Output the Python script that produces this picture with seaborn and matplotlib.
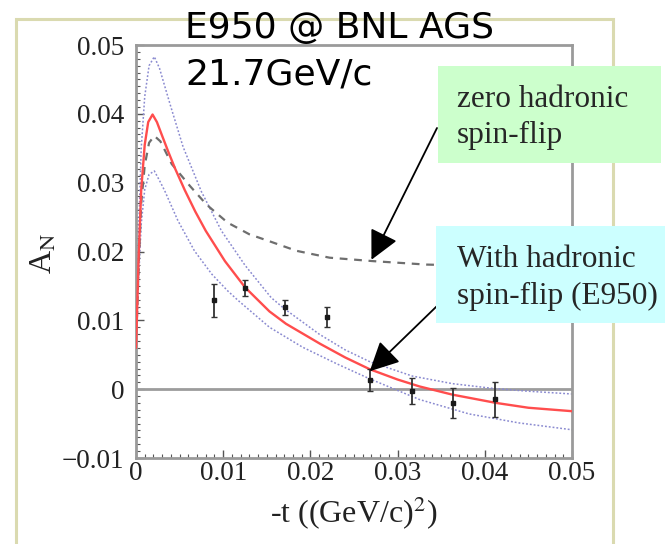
import matplotlib
matplotlib.use("Agg")
import matplotlib.pyplot as plt
from matplotlib.patches import Rectangle
from matplotlib.ticker import MultipleLocator
import numpy as np
import pandas as pd
import seaborn as sns

# ---- E950 measured analyzing power ----
t_data = [0.0089, 0.0125, 0.0171, 0.0219, 0.0268, 0.0316, 0.0363, 0.0412]
an_data = [0.0129, 0.0147, 0.0119, 0.0105, 0.0013, -0.0003, -0.0020, -0.0015]
an_err = [0.0024, 0.0012, 0.0011, 0.0014, 0.0016, 0.0019, 0.0022, 0.0025]

# ---- fit with hadronic spin-flip (central curve) ----
t_fit = [0.0, 0.0003, 0.0006, 0.0010, 0.0014, 0.0019, 0.0024, 0.0030, 0.0037,
         0.0045, 0.0056, 0.0068, 0.0080, 0.0102, 0.0125, 0.0153, 0.0172, 0.0211,
         0.0240, 0.0268, 0.0300, 0.0325, 0.0363, 0.0413, 0.0450, 0.0500]
an_fit = [0.0060, 0.0190, 0.0290, 0.0355, 0.0388, 0.0399, 0.0388, 0.0368, 0.0345,
          0.0320, 0.0289, 0.0258, 0.0230, 0.0186, 0.0148, 0.0113, 0.0095, 0.0066,
          0.0046, 0.0029, 0.0014, 0.0004, -0.0008, -0.0020, -0.0027, -0.0032]

# ---- upper error band ----
t_up = [0.0, 0.0003, 0.0006, 0.0010, 0.0015, 0.0021, 0.0027, 0.0033, 0.0040,
        0.0054, 0.0075, 0.0098, 0.0125, 0.0155, 0.0170, 0.0210, 0.0240, 0.0268,
        0.0317, 0.0363, 0.0410, 0.0450, 0.0500]
an_up = [0.0060, 0.0230, 0.0350, 0.0425, 0.0470, 0.0483, 0.0466, 0.0440, 0.0410,
         0.0352, 0.0287, 0.0230, 0.0180, 0.0133, 0.0117, 0.0080, 0.0057, 0.0040,
         0.0019, 0.0008, 0.0001, -0.0003, -0.0007]

# ---- lower error band ----
t_lo = [0.0, 0.0003, 0.0006, 0.0010, 0.0015, 0.0021, 0.0027, 0.0033, 0.0048,
        0.0067, 0.0087, 0.0105, 0.0117, 0.0153, 0.0191, 0.0230, 0.0268, 0.0325,
        0.0382, 0.0439, 0.0500]
an_lo = [0.0050, 0.0160, 0.0240, 0.0290, 0.0312, 0.0317, 0.0303, 0.0288, 0.0245,
         0.0201, 0.0167, 0.0143, 0.0129, 0.0090, 0.0061, 0.0037, 0.0015, -0.0015,
         -0.0036, -0.0049, -0.0059]

# ---- zero hadronic spin-flip prediction ----
t_cni = [0.0, 0.0003, 0.0006, 0.0010, 0.0015, 0.0021, 0.0028, 0.0041, 0.0062,
         0.0081, 0.0105, 0.0130, 0.0155, 0.0184, 0.0222, 0.0272, 0.0333, 0.0400,
         0.0500]
an_cni = [0.0060, 0.0180, 0.0270, 0.0325, 0.0358, 0.0368, 0.0360, 0.0327, 0.0295,
          0.0268, 0.0242, 0.0225, 0.0214, 0.0201, 0.0191, 0.0186, 0.0181, 0.0179,
          0.0177]

x_ticks = [0.0, 0.01, 0.02, 0.03, 0.04, 0.05]
x_ticklabels = ["0", "0.01", "0.02", "0.03", "0.04", "0.05"]
y_ticks = [-0.01, 0.0, 0.01, 0.02, 0.03, 0.04, 0.05]
y_ticklabels = ["\u22120.01", "0", "0.01", "0.02", "0.03", "0.04", "0.05"]

sns.set_theme(style="white")
plt.rcParams["font.family"] = ["Liberation Serif", "DejaVu Serif"]
plt.rcParams["mathtext.fontset"] = "stix"

W, H = 665, 544
fig = plt.figure(figsize=(W / 100, H / 100), dpi=100)
ax = fig.add_axes([136 / W, 1 - 458 / H, 436 / W, 413 / H])

# outer slide frame
fig.patches.append(Rectangle((15.5 / W, -0.1), (613 - 15.5) / W, (1 - 19 / H) + 0.1,
                             transform=fig.transFigure, fill=False,
                             ec="#dadab0", lw=2.2, zorder=0.5))

ax.axhline(0, color="#9c9c9c", lw=2, zorder=1)

sns.lineplot(x=t_up, y=an_up, ax=ax, sort=False, estimator=None,
             color="#8a8ad0", lw=1.1, linestyle=(0, (1.2, 1.3)), zorder=2)
sns.lineplot(x=t_lo, y=an_lo, ax=ax, sort=False, estimator=None,
             color="#8a8ad0", lw=1.1, linestyle=(0, (1.2, 1.3)), zorder=2)
sns.lineplot(x=t_cni, y=an_cni, ax=ax, sort=False, estimator=None,
             color="#6e6e6e", lw=1.6, linestyle=(0, (3.5, 3)), zorder=2)
sns.lineplot(x=t_fit, y=an_fit, ax=ax, sort=False, estimator=None,
             color="#ff4d4d", lw=1.7, zorder=3)

ax.errorbar(t_data, an_data, yerr=an_err, fmt="s", ms=3.2, color="#1a1a1a",
            ecolor="#333333", elinewidth=1.3, capsize=2.5, capthick=1, zorder=4)

ax.set_xlim(0, 0.05)
ax.set_ylim(-0.01, 0.05)
ax.set_xticks(x_ticks)
ax.set_xticklabels(x_ticklabels)
ax.set_yticks(y_ticks)
ax.set_yticklabels(y_ticklabels)
ax.xaxis.set_minor_locator(MultipleLocator(0.001))
ax.yaxis.set_minor_locator(MultipleLocator(0.001))
ax.tick_params(which="both", direction="in", left=True, bottom=True,
               top=False, right=False, color="#555555", labelcolor="#222222")
ax.tick_params(which="major", length=6, width=1, labelsize=19.5)
ax.tick_params(which="minor", length=3, width=0.8)
ax.tick_params(axis="y", pad=8.5)
ax.tick_params(axis="x", pad=2.5)
ax.set_xlabel("")
ax.set_ylabel("")
for s in ax.spines.values():
    s.set_color("#9a9a9a")
    s.set_linewidth(2)

fig.text(354 / W, 1 - 513 / H, "-t ((GeV/c)$^{2}$)", ha="center", va="center",
         fontsize=23, color="#222222")
fig.text(44 / W, 1 - 253 / H, "A$_{\\mathrm{N}}$", ha="center", va="center",
         rotation=90, fontsize=23, color="#222222")

# experiment title
fig.text(185 / W, 1 - 38 / H, "E950 @ BNL AGS", family="DejaVu Sans",
         fontsize=26, va="baseline", color="black", zorder=5)
fig.text(185 / W, 1 - 85 / H, "21.7GeV/c", family="DejaVu Sans",
         fontsize=26, va="baseline", color="black", zorder=5)

# callout boxes
fig.patches.append(Rectangle((438 / W, 1 - 163 / H), (661 - 438) / W, (163 - 66) / H,
                             transform=fig.transFigure, fc="#ccffcc", ec="none", zorder=2))
fig.patches.append(Rectangle((436 / W, 1 - 323 / H), (665 - 436) / W, (323 - 226) / H,
                             transform=fig.transFigure, fc="#ccffff", ec="none", zorder=2))
fig.text(457 / W, 1 - 106.7 / H, "zero hadronic", fontsize=22.5, va="baseline", zorder=5)
fig.text(457 / W, 1 - 143 / H, "spin-flip", fontsize=22.5, va="baseline", zorder=5)
fig.text(457 / W, 1 - 266.7 / H, "With hadronic", fontsize=22.5, va="baseline", zorder=5)
fig.text(457 / W, 1 - 304 / H, "spin-flip (E950)", fontsize=22.5, va="baseline", zorder=5)

arrow = dict(arrowstyle="-|>,head_length=0.9,head_width=0.45", color="black",
             lw=1.3, shrinkA=0, shrinkB=0, mutation_scale=20)
ax.annotate("", xy=(0.0270, 0.0188), xycoords="data",
            xytext=(437 / W, 1 - 128 / H), textcoords="figure fraction",
            arrowprops=arrow, annotation_clip=False, zorder=6)
ax.annotate("", xy=(0.0268, 0.0026), xycoords="data",
            xytext=(437 / W, 1 - 306 / H), textcoords="figure fraction",
            arrowprops=arrow, annotation_clip=False, zorder=6)

fig.savefig("out.png", dpi=100)
